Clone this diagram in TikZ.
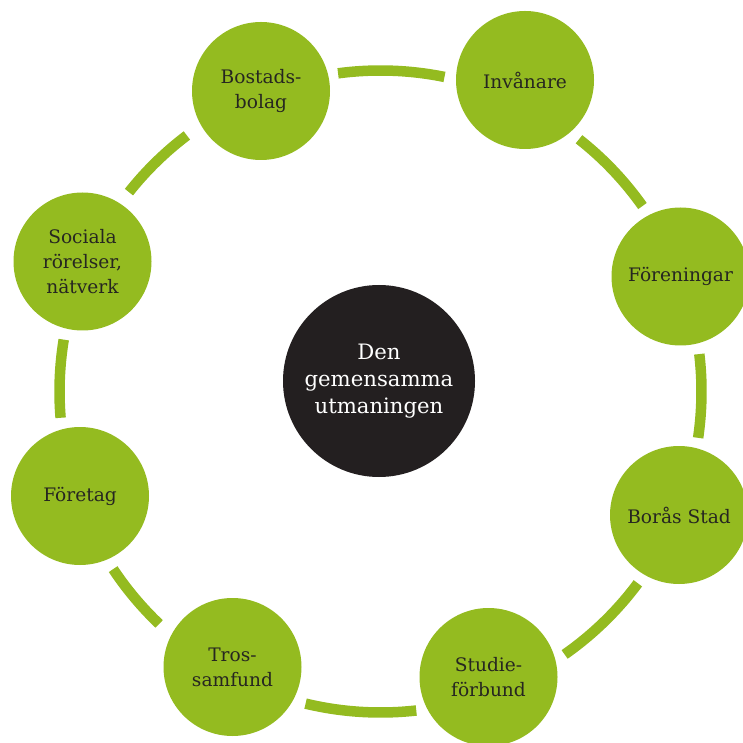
\documentclass[tikz,border=0pt]{standalone}
\usepackage{fontspec}
\setmainfont{DejaVu Serif}
\definecolor{ringgreen}{HTML}{94BB20}
\definecolor{hubblack}{HTML}{231F20}
\definecolor{labeldark}{HTML}{262620}
\begin{document}
\begin{tikzpicture}[x=1pt,y=1pt,
  member/.style={circle,fill=ringgreen,minimum size=138pt,inner sep=0pt,align=center,
    text=labeldark,font=\fontsize{18.6}{25}\selectfont},
  hub/.style={circle,fill=hubblack,minimum size=192pt,inner sep=0pt,align=center,
    text=white,font=\fontsize{21.2}{27}\selectfont},
  link/.style={draw=ringgreen,line width=10.5pt,line cap=butt}]
\useasboundingbox (0,0) rectangle (743,742);
\coordinate (rc) at (380.5,350.5);
\node[hub] (hub) at (379,361) {Den\\gemensamma\\utmaningen};
\node[member] (bost) at (261,651) {Bostads-\\bolag};
\node[member] (inv) at (525,662) {Invånare};
\node[member] (for) at (680.5,465.5) {Föreningar};
\node[member] (bor) at (679,227) {Borås Stad};
\node[member] (stu) at (488.5,65) {Studie-\\förbund};
\node[member] (tros) at (232.5,75) {Tros-\\samfund};
\node[member] (fty) at (80,246) {Företag};
\node[member] (soc) at (82.5,480.5) {Sociala\\rörelser,\\nätverk};
\foreach \a/\b in {97.6/78.5, 51.8/35.3, 6.7/-8.3, -36.7/-55, -83.6/-103.5,
                   -133.6/-146.4, 170.7/184.7, 141.6/127.1}{
  \draw[link] ([shift={(\a:321pt)}]rc) arc[start angle=\a, end angle=\b, radius=321pt];
}
\end{tikzpicture}
\end{document}
